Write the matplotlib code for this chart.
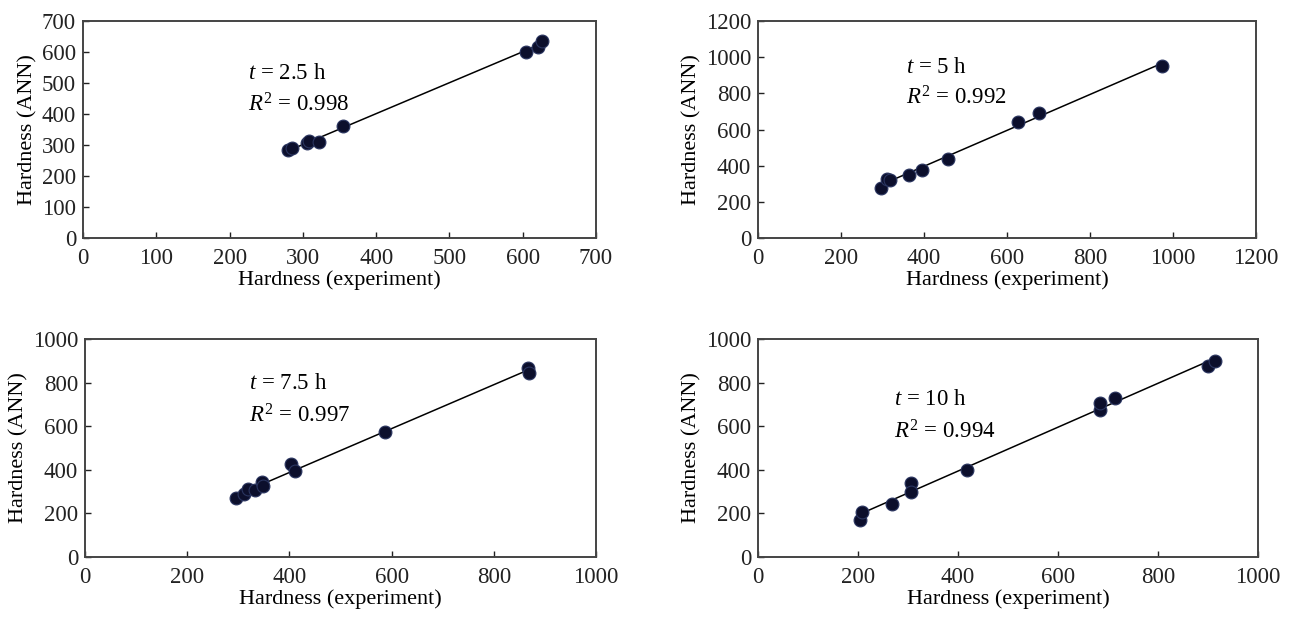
import numpy as np
import matplotlib
matplotlib.use("Agg")
import matplotlib.pyplot as plt

# --- data ---
# t = 2.5 h
x_25 = [280, 285, 305, 308, 322, 355, 605, 621, 626]
y_25 = [283, 290, 305, 313, 311, 361, 601, 617, 636]
# t = 5 h
x_5 = [297, 310, 318, 365, 395, 457, 626, 678, 974]
y_5 = [278, 329, 323, 351, 378, 437, 643, 694, 950]
# t = 7.5 h
x_75 = [296, 312, 319, 332, 346, 349, 404, 410, 587, 866, 869]
y_75 = [272, 291, 312, 306, 343, 327, 425, 396, 575, 866, 846]
# t = 10 h
x_10 = [203, 207, 267, 305, 306, 417, 684, 684, 713, 899, 914]
y_10 = [170, 205, 242, 338, 300, 399, 673, 708, 729, 878, 901]

times = ["2.5", "5", "7.5", "10"]
r2_values = ["0.998", "0.992", "0.997", "0.994"]
axis_max = [700, 1200, 1000, 1000]
tick_step = [100, 200, 200, 200]
text_pos = [(225, 532, 429), (357, 941, 776), (321, 794, 648), (271, 723, 576)]

plt.rcParams["font.family"] = "Liberation Serif"
plt.rcParams["mathtext.fontset"] = "custom"
plt.rcParams["mathtext.rm"] = "Liberation Serif"
plt.rcParams["mathtext.it"] = "Liberation Serif:italic"

fig = plt.figure(figsize=(12.95, 6.24), dpi=100)
W, H = 1295, 624
# axes boxes in pixels: left, top, right, bottom
boxes = [(83, 21, 596, 238), (758, 21, 1256, 238),
         (85, 339, 596, 557), (758, 339, 1258, 557)]

xs = [x_25, x_5, x_75, x_10]
ys = [y_25, y_5, y_75, y_10]

for i in range(4):
    l, t, r, b = boxes[i]
    ax = fig.add_axes([l / W, 1 - b / H, (r - l) / W, (b - t) / H])
    x = np.array(xs[i])
    y = np.array(ys[i])

    # fitted line over data range
    k, c = np.polyfit(x, y, 1)
    xl = np.array([x.min(), x.max()])
    ax.plot(xl, k * xl + c, color="black", lw=1.1, zorder=2)
    ax.scatter(x, y, s=85, color="#0c0f2c", edgecolors="#2a3560",
               linewidths=0.8, zorder=3)

    m = axis_max[i]
    ax.set_xlim(0, m)
    ax.set_ylim(0, m)
    ax.set_xticks(np.arange(0, m + 1, tick_step[i]))
    ax.set_yticks(np.arange(0, m + 1, tick_step[i]))
    ax.tick_params(direction="in", length=4, width=1, labelsize=16.5,
                   colors="#222222")
    ax.tick_params(axis="x", pad=7)
    ax.tick_params(axis="y", pad=5)
    for sp in ax.spines.values():
        sp.set_color("#444444")
        sp.set_linewidth(1.4)

    ax.set_xlabel("Hardness (experiment)", fontsize=16, labelpad=1)
    ax.set_ylabel("Hardness (ANN)", fontsize=16, labelpad=3)

    tx, ty1, ty2 = text_pos[i]
    ax.text(tx, ty1, r"$t$ = " + times[i] + " h", fontsize=16.5,
            va="center", ha="left")
    ax.text(tx, ty2, r"$R^2$ = " + r2_values[i], fontsize=16.5,
            va="center", ha="left")

fig.savefig("out.png", dpi=100)
